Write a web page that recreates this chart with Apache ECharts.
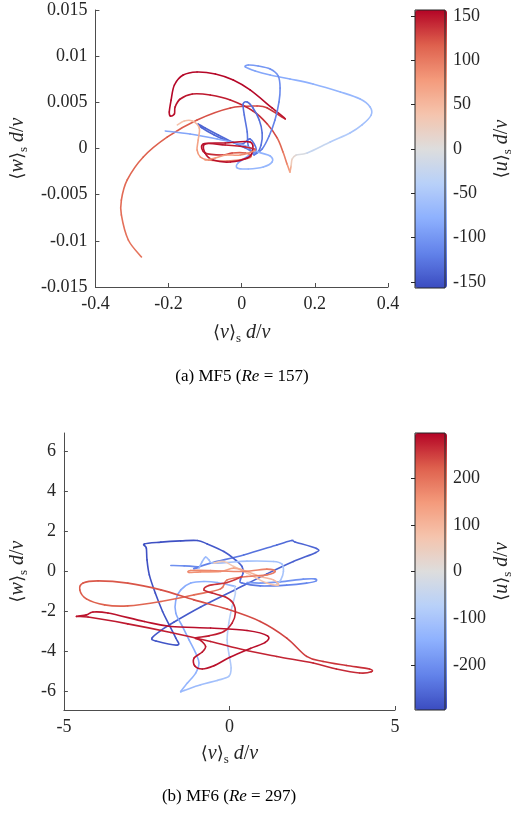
<!DOCTYPE html>
<html>
<head>
<meta charset="utf-8">
<title>MF5 / MF6 trajectories</title>
<script src="https://cdn.jsdelivr.net/npm/echarts@6.0.0/dist/echarts.min.js"></script>
<style>
  html, body { margin: 0; padding: 0; background: #fff; }
  #chart { width: 515px; height: 816px; }
</style>
</head>
<body>
<div id="chart"></div>
<script>
// rows are [<v>s d/nu, <w>s d/nu, <u>s d/nu]

// MF5 (Re = 157)
var mf5Rise = [
  [-0.274,-0.01175,105],[-0.310,-0.00991,107],[-0.329,-0.00720,109],[-0.329,-0.00558,111],
  [-0.313,-0.00341,114],[-0.269,-0.00092,117],[-0.203,0.00125,120],[-0.122,0.00309,124],
  [-0.031,0.00439,128],[0.042,0.00460,132],[0.070,0.00439,136],[0.119,0.00320,150],
  [0.083,0.00439,155],[0.023,0.00634,156],[-0.023,0.00742,156],[-0.072,0.00807,156],
  [-0.122,0.00829,156],[-0.160,0.00796,156],[-0.184,0.00688,156],[-0.193,0.00525,155],
  [-0.198,0.00395,154],[-0.195,0.00352,153],[-0.184,0.00374,152],[-0.182,0.00450,151],
  [-0.168,0.00536,150],[-0.135,0.00590,149],[-0.086,0.00579,147],[-0.031,0.00525,144],
  [0.031,0.00406,138],[0.070,0.00265,128],[0.097,0.00114,114],[0.113,-0.00038,98],
  [0.124,-0.00168,82],[0.132,-0.00255,62]
];
var mf5Swing = [
  [0.132,-0.00255,62],[0.135,-0.00190,30],[0.138,-0.00114,12],[0.149,-0.00070,-5],
  [0.179,-0.00049,-25],[0.242,0.00070,-45],[0.296,0.00168,-55],[0.329,0.00255,-60],
  [0.354,0.00363,-63],[0.351,0.00450,-66],[0.324,0.00536,-70],[0.270,0.00612,-74],
  [0.195,0.00699,-78],[0.132,0.00753,-82],[0.078,0.00796,-86],[0.037,0.00839,-90],
  [0.010,0.00883,-95],[0.018,0.00904,-98],[0.045,0.00894,-100],[0.078,0.00861,-104],
  [0.100,0.00785,-108],[0.105,0.00655,-112],[0.102,0.00504,-115],[0.091,0.00309,-118],
  [0.075,0.00135,-120],[0.056,-0.00005,-122],[0.034,-0.00070,-124]
];
var mf5Core = [
  [0.034,-0.00070,-124],[0.018,0.00027,-126],[0.015,0.00179,-128],[0.007,0.00363,-130],
  [0.004,0.00482,-132],[0.015,0.00504,-133],[0.031,0.00439,-133],[0.048,0.00309,-132],
  [0.056,0.00168,-130],[0.053,0.00038,-128],[0.040,-0.00049,-125],[0.010,0.00005,-130],
  [-0.026,0.00070,-135],[-0.064,0.00146,-138],[-0.100,0.00222,-140],[-0.119,0.00265,-140],
  [-0.108,0.00222,-138],[-0.075,0.00146,-136],[-0.037,0.00081,-134],[0.001,0.00049,-132],
  [0.023,0.00103,-130],[0.040,-0.00016,-105],[0.018,-0.00081,-85],[-0.010,-0.00157,-75],
  [-0.012,-0.00211,-72],[0.018,-0.00222,-70],[0.059,-0.00200,-70],[0.083,-0.00146,-72],
  [0.078,-0.00081,-75],[0.045,-0.00038,-80],[0.004,0.00038,-84],[-0.067,0.00103,-86],
  [-0.141,0.00157,-88],[-0.209,0.00190,-90]
];
var mf5Knot = [
  [-0.176,0.00255,40],[-0.157,0.00298,45],[-0.135,0.00298,50],[-0.116,0.00222,60],
  [-0.119,0.00092,70],[-0.122,-0.00016,80],[-0.113,-0.00092,88],[-0.091,-0.00125,95],
  [-0.040,-0.00135,100],[0.010,-0.00114,105],[0.026,-0.00081,110],[0.010,-0.00049,118],
  [-0.026,-0.00049,128],[-0.053,-0.00070,140],[-0.100,-0.00049,150],[-0.105,0.00049,152],
  [-0.045,0.00060,154],[0.023,0.00070,155],[0.029,-0.00038,154],[0.015,-0.00103,153],
  [-0.031,-0.00146,152],[-0.078,-0.00125,152],[-0.100,-0.00049,151],[-0.100,0.00049,150],
  [-0.045,0.00038,148],[0.010,0.00016,140],[0.037,-0.00016,90],[-0.004,-0.00070,80],
  [-0.042,-0.00070,75],[-0.072,-0.00103,80],[-0.100,-0.00125,85]
];

// MF6 (Re = 297)
var mf6Dark = [
  [-1.77,0.30,-200],[-1.37,0.28,-210],[-0.92,0.22,-220],[-1.07,0.15,-225],[-0.57,0.42,-235],
  [0.43,0.83,-245],[1.43,1.33,-255],[1.88,1.55,-260],[1.98,1.48,-262],[2.63,1.15,-265],
  [2.61,0.95,-268],[1.93,0.50,-270],[1.13,-0.12,-272],[0.13,-0.95,-275],[-0.87,-1.78,-278],
  [-1.67,-2.53,-280],[-2.07,-2.95,-282],[-2.34,-3.33,-284],[-2.22,-3.48,-285],[-1.57,-3.68,-286],
  [-1.62,-3.33,-287],[-1.82,-2.67,-288],[-2.02,-2.00,-289],[-2.24,-1.08,-290],[-2.42,-0.17,-290],
  [-2.49,0.58,-290],[-2.51,1.17,-291],[-2.57,1.38,-292],[-2.07,1.47,-290],[-1.47,1.53,-288],
  [-0.97,1.55,-285],[-0.67,1.38,-280],[-0.17,1.00,-275],[0.18,0.58,-270],[0.38,0.25,-265],
  [0.41,-0.08,-255],[0.33,-0.42,-245],[0.38,-0.58,-235],[0.93,-0.72,-225],[1.73,-0.68,-215],
  [2.33,-0.58,-205],[2.61,-0.48,-200],[2.58,-0.37,-198],[2.23,-0.38,-195],[1.53,-0.52,-190],
  [0.93,-0.58,-185],[0.53,-0.55,-180]
];
var mf6Upper = [
  [-0.92,0.17,-130],[-0.82,0.50,-125],[-0.72,0.72,-120],[-0.62,0.58,-118],[-0.52,0.42,-115],
  [-0.07,0.45,-112],[0.53,0.52,-110],[1.33,0.50,-108],[1.58,0.38,-105],[1.63,0.00,-102],
  [1.55,-0.42,-100],[1.43,-0.62,-98]
];
var mf6Lower = [
  [0.18,-0.75,-140],[-0.37,-0.55,-145],[-0.77,-0.50,-150],[-1.17,-0.58,-155],[-1.47,-0.92,-158],
  [-1.62,-1.42,-160],[-1.62,-2.08,-160],[-1.42,-2.75,-158],[-1.22,-3.42,-155],[-1.02,-4.08,-150],
  [-0.92,-4.58,-145],[-1.02,-5.08,-140],[-1.27,-5.58,-135],[-1.47,-6.00,-130],[-1.37,-5.95,-125],
  [-0.87,-5.67,-115],[-0.37,-5.45,-105],[-0.02,-5.25,-95],[0.05,-4.83,-90],[-0.02,-4.08,-85],
  [-0.07,-3.42,-80],[-0.02,-2.58,-78],[0.08,-1.75,-75],[0.18,-1.08,-60],[0.15,-0.75,-40]
];
var mf6Warm = [
  [-0.47,0.42,60],[-0.17,0.50,65],[0.13,0.25,70],[0.53,-0.08,75],[1.13,-0.58,80],
  [1.48,-0.67,85],[1.33,-0.42,95],[0.93,-0.25,105],[0.53,0.00,120],[0.13,0.17,135],
  [-0.27,0.00,150],[-0.87,-0.02,160],[-1.22,-0.05,170],[-1.17,0.05,172],[-0.57,0.05,175],
  [0.43,0.00,180],[1.13,0.12,185],[1.38,0.00,188],[1.13,-0.17,190],[0.53,-0.25,192],
  [-0.07,-0.42,195],[-0.27,-0.87,205],[-1.07,-1.17,210],[-2.07,-1.50,215],[-3.07,-1.72,220],
  [-3.77,-1.67,222],[-4.32,-1.37,225],[-4.52,-0.92,227],[-4.42,-0.58,228],[-3.97,-0.47,230],
  [-3.07,-0.58,232],[-2.07,-0.92,235],[-1.07,-1.42,238],[-0.07,-1.88,240],[0.93,-2.50,245],
  [1.73,-3.33,250],[2.33,-4.25,255],[2.83,-4.50,258],[3.53,-4.70,262],[4.23,-4.88,265],
  [4.28,-5.02,266],[3.93,-5.08,267],[3.23,-4.88,268],[2.53,-4.58,270],[1.43,-4.25,272],
  [0.43,-3.92,274],[-0.57,-3.50,276],[-1.77,-3.05,278],[-3.07,-2.62,280],[-4.27,-2.28,282],
  [-4.62,-2.25,283],[-4.32,-2.17,284],[-4.12,-2.03,285],[-3.67,-2.08,286],[-2.57,-2.50,287],
  [-1.77,-2.75,288],[-0.57,-2.83,289],[0.53,-2.95,290],[1.15,-3.22,290],[1.08,-3.55,289],
  [0.63,-3.85,288],[0.03,-4.28,287],[-0.47,-4.72,286],[-0.82,-4.88,285],[-1.05,-4.72,284],
  [-1.07,-4.33,283],[-0.82,-4.03,282],[-0.72,-3.75,281],[-0.87,-3.45,280],[-1.02,-3.33,279],
  [-0.62,-3.22,278],[-0.17,-3.00,276],[0.08,-2.58,274],[0.18,-2.08,272],[0.11,-1.58,270],
  [-0.12,-1.28,268],[-0.52,-1.08,265],[-0.77,-0.92,262],[-0.62,-0.70,260],[-0.07,-0.55,255],
  [0.38,-0.25,250]
];

var mf5Pieces = [mf5Rise, mf5Swing, mf5Core, mf5Knot];
var mf6Pieces = [mf6Dark, mf6Upper, mf6Lower, mf6Warm];

var mf5Ticks = [-150, -100, -50, 0, 50, 100, 150];
var mf6Ticks = [-200, -100, 0, 100, 200];
var mf6WTicks = [-6, -4, -2, 0, 2, 4, 6];

var coolwarm = ['#3b4cc0', '#6282ea', '#8db0fe', '#b8d0f9', '#dddddd',
                '#f5c4ad', '#f49a7b', '#de604d', '#b40426'];

var FONT = 'Liberation Serif';
var INK = '#262626';
var richName = {
  n: { fontFamily: FONT, fontSize: 20, color: INK, lineHeight: 24 },
  b: { fontFamily: 'DejaVu Serif', fontSize: 18, color: INK, lineHeight: 24 },
  i: { fontFamily: FONT, fontSize: 20, fontStyle: 'italic', color: INK, lineHeight: 24 },
  s: { fontFamily: FONT, fontSize: 13, color: INK, lineHeight: 24, verticalAlign: 'bottom' }
};
function axName(sym) {
  return '{b|⟨}{i|' + sym + '}{b|⟩}{s|s}{n| }{i|d}{n|/}{i|ν}';
}

// one custom series per trajectory piece: each item draws a smooth
// segment to the next point, coloured by the visualMap on <u>
function piece(pts, gi) {
  return {
    type: 'custom',
    xAxisIndex: gi,
    yAxisIndex: gi,
    data: pts,
    dimensions: ['v', 'w', 'u'],
    encode: { x: 0, y: 1 },
    silent: true,
    renderItem: function (params, api) {
      var i = params.dataIndex, n = pts.length;
      if (i >= n - 1) return;
      var c = function (k) { return api.coord([pts[k][0], pts[k][1]]); };
      var p0 = c(Math.max(i - 1, 0)), p1 = c(i), p2 = c(i + 1), p3 = c(Math.min(i + 2, n - 1));
      return {
        type: 'bezierCurve',
        shape: {
          x1: p1[0], y1: p1[1], x2: p2[0], y2: p2[1],
          cpx1: p1[0] + (p2[0] - p0[0]) / 6, cpy1: p1[1] + (p2[1] - p0[1]) / 6,
          cpx2: p2[0] - (p3[0] - p1[0]) / 6, cpy2: p2[1] - (p3[1] - p1[1]) / 6
        },
        style: { stroke: api.visual('color'), fill: null, lineWidth: 1.6, lineCap: 'round' }
      };
    }
  };
}

function plotAxis(extra) {
  var a = {
    axisLine: { show: true, onZero: false, lineStyle: { color: '#4d4d4d', width: 1 } },
    axisTick: { show: true, inside: true, length: 4, lineStyle: { color: '#4d4d4d' } },
    axisLabel: { fontFamily: FONT, fontSize: 18, color: INK, margin: 8 },
    splitLine: { show: false }
  };
  for (var k in extra) a[k] = extra[k];
  return a;
}

var chart = echarts.init(document.getElementById('chart'));

var series = [];
mf5Pieces.forEach(function (p) { series.push(piece(p, 0)); });
mf6Pieces.forEach(function (p) { series.push(piece(p, 1)); });

chart.setOption({
  animation: false,
  grid: [
    { left: 95, top: 10, width: 293, height: 277 },
    { left: 62, top: 433, width: 333, height: 277 },
    { left: 415, top: 10, width: 32, height: 278, show: true, borderColor: INK, borderWidth: 1, z: 5 },
    { left: 415, top: 433, width: 32, height: 277, show: true, borderColor: INK, borderWidth: 1, z: 5 }
  ],
  xAxis: [
    plotAxis({ gridIndex: 0, type: 'value', min: -0.4, max: 0.4, interval: 0.2,
      name: axName('v'), nameLocation: 'middle', nameGap: 34, nameTextStyle: { rich: richName } }),
    plotAxis({ gridIndex: 1, type: 'value', min: -5, max: 5, interval: 5,
      name: axName('v'), nameLocation: 'middle', nameGap: 32, nameTextStyle: { rich: richName } }),
    { gridIndex: 2, type: 'value', show: false, min: 0, max: 1 },
    { gridIndex: 3, type: 'value', show: false, min: 0, max: 1 }
  ],
  yAxis: [
    plotAxis({ gridIndex: 0, type: 'value', min: -0.015, max: 0.015, interval: 0.005,
      name: axName('w'), nameLocation: 'middle', nameRotate: 90, nameGap: 64,
      nameTextStyle: { rich: richName } }),
    plotAxis({ gridIndex: 1, type: 'value', min: -6.93, max: 6.93,
      axisTick: { show: true, inside: true, length: 4, lineStyle: { color: '#4d4d4d' }, customValues: mf6WTicks },
      axisLabel: { fontFamily: FONT, fontSize: 18, color: INK, margin: 8, customValues: mf6WTicks },
      name: axName('w'), nameLocation: 'middle', nameRotate: 90, nameGap: 29,
      nameTextStyle: { rich: richName } }),
    { gridIndex: 2, type: 'value', position: 'right', min: -157, max: 157, z: 6,
      axisLine: { show: false },
      axisTick: { show: true, inside: true, length: 4, lineStyle: { color: INK }, customValues: mf5Ticks },
      axisLabel: { fontFamily: FONT, fontSize: 18, color: INK, margin: 8, customValues: mf5Ticks },
      splitLine: { show: false },
      name: axName('u'), nameLocation: 'middle', nameRotate: 90, nameGap: 45,
      nameTextStyle: { rich: richName } },
    { gridIndex: 3, type: 'value', position: 'right', min: -297, max: 297, z: 6,
      axisLine: { show: false },
      axisTick: { show: true, inside: true, length: 4, lineStyle: { color: INK }, customValues: mf6Ticks },
      axisLabel: { fontFamily: FONT, fontSize: 18, color: INK, margin: 8, customValues: mf6Ticks },
      splitLine: { show: false },
      name: axName('u'), nameLocation: 'middle', nameRotate: 90, nameGap: 45,
      nameTextStyle: { rich: richName } }
  ],
  visualMap: [
    { type: 'continuous', min: -157, max: 157, dimension: 2, seriesIndex: [0, 1, 2, 3],
      inRange: { color: coolwarm }, left: 415, top: 10, itemWidth: 32, itemHeight: 278,
      padding: 0, calculable: false, hoverLink: false, text: null },
    { type: 'continuous', min: -297, max: 297, dimension: 2, seriesIndex: [4, 5, 6, 7],
      inRange: { color: coolwarm }, left: 415, top: 433, itemWidth: 32, itemHeight: 277,
      padding: 0, calculable: false, hoverLink: false, text: null }
  ],
  graphic: [
    { type: 'text', x: 242, y: 377, style: {
      text: '{n|(a) MF5 (}{i|Re}{n| = 157)}', align: 'center', verticalAlign: 'middle',
      rich: { n: { fontFamily: FONT, fontSize: 17, color: '#000' },
              i: { fontFamily: FONT, fontSize: 17, fontStyle: 'italic', color: '#000' } } } },
    { type: 'text', x: 229, y: 797, style: {
      text: '{n|(b) MF6 (}{i|Re}{n| = 297)}', align: 'center', verticalAlign: 'middle',
      rich: { n: { fontFamily: FONT, fontSize: 17, color: '#000' },
              i: { fontFamily: FONT, fontSize: 17, fontStyle: 'italic', color: '#000' } } } }
  ],
  series: series
});
</script>
</body>
</html>
